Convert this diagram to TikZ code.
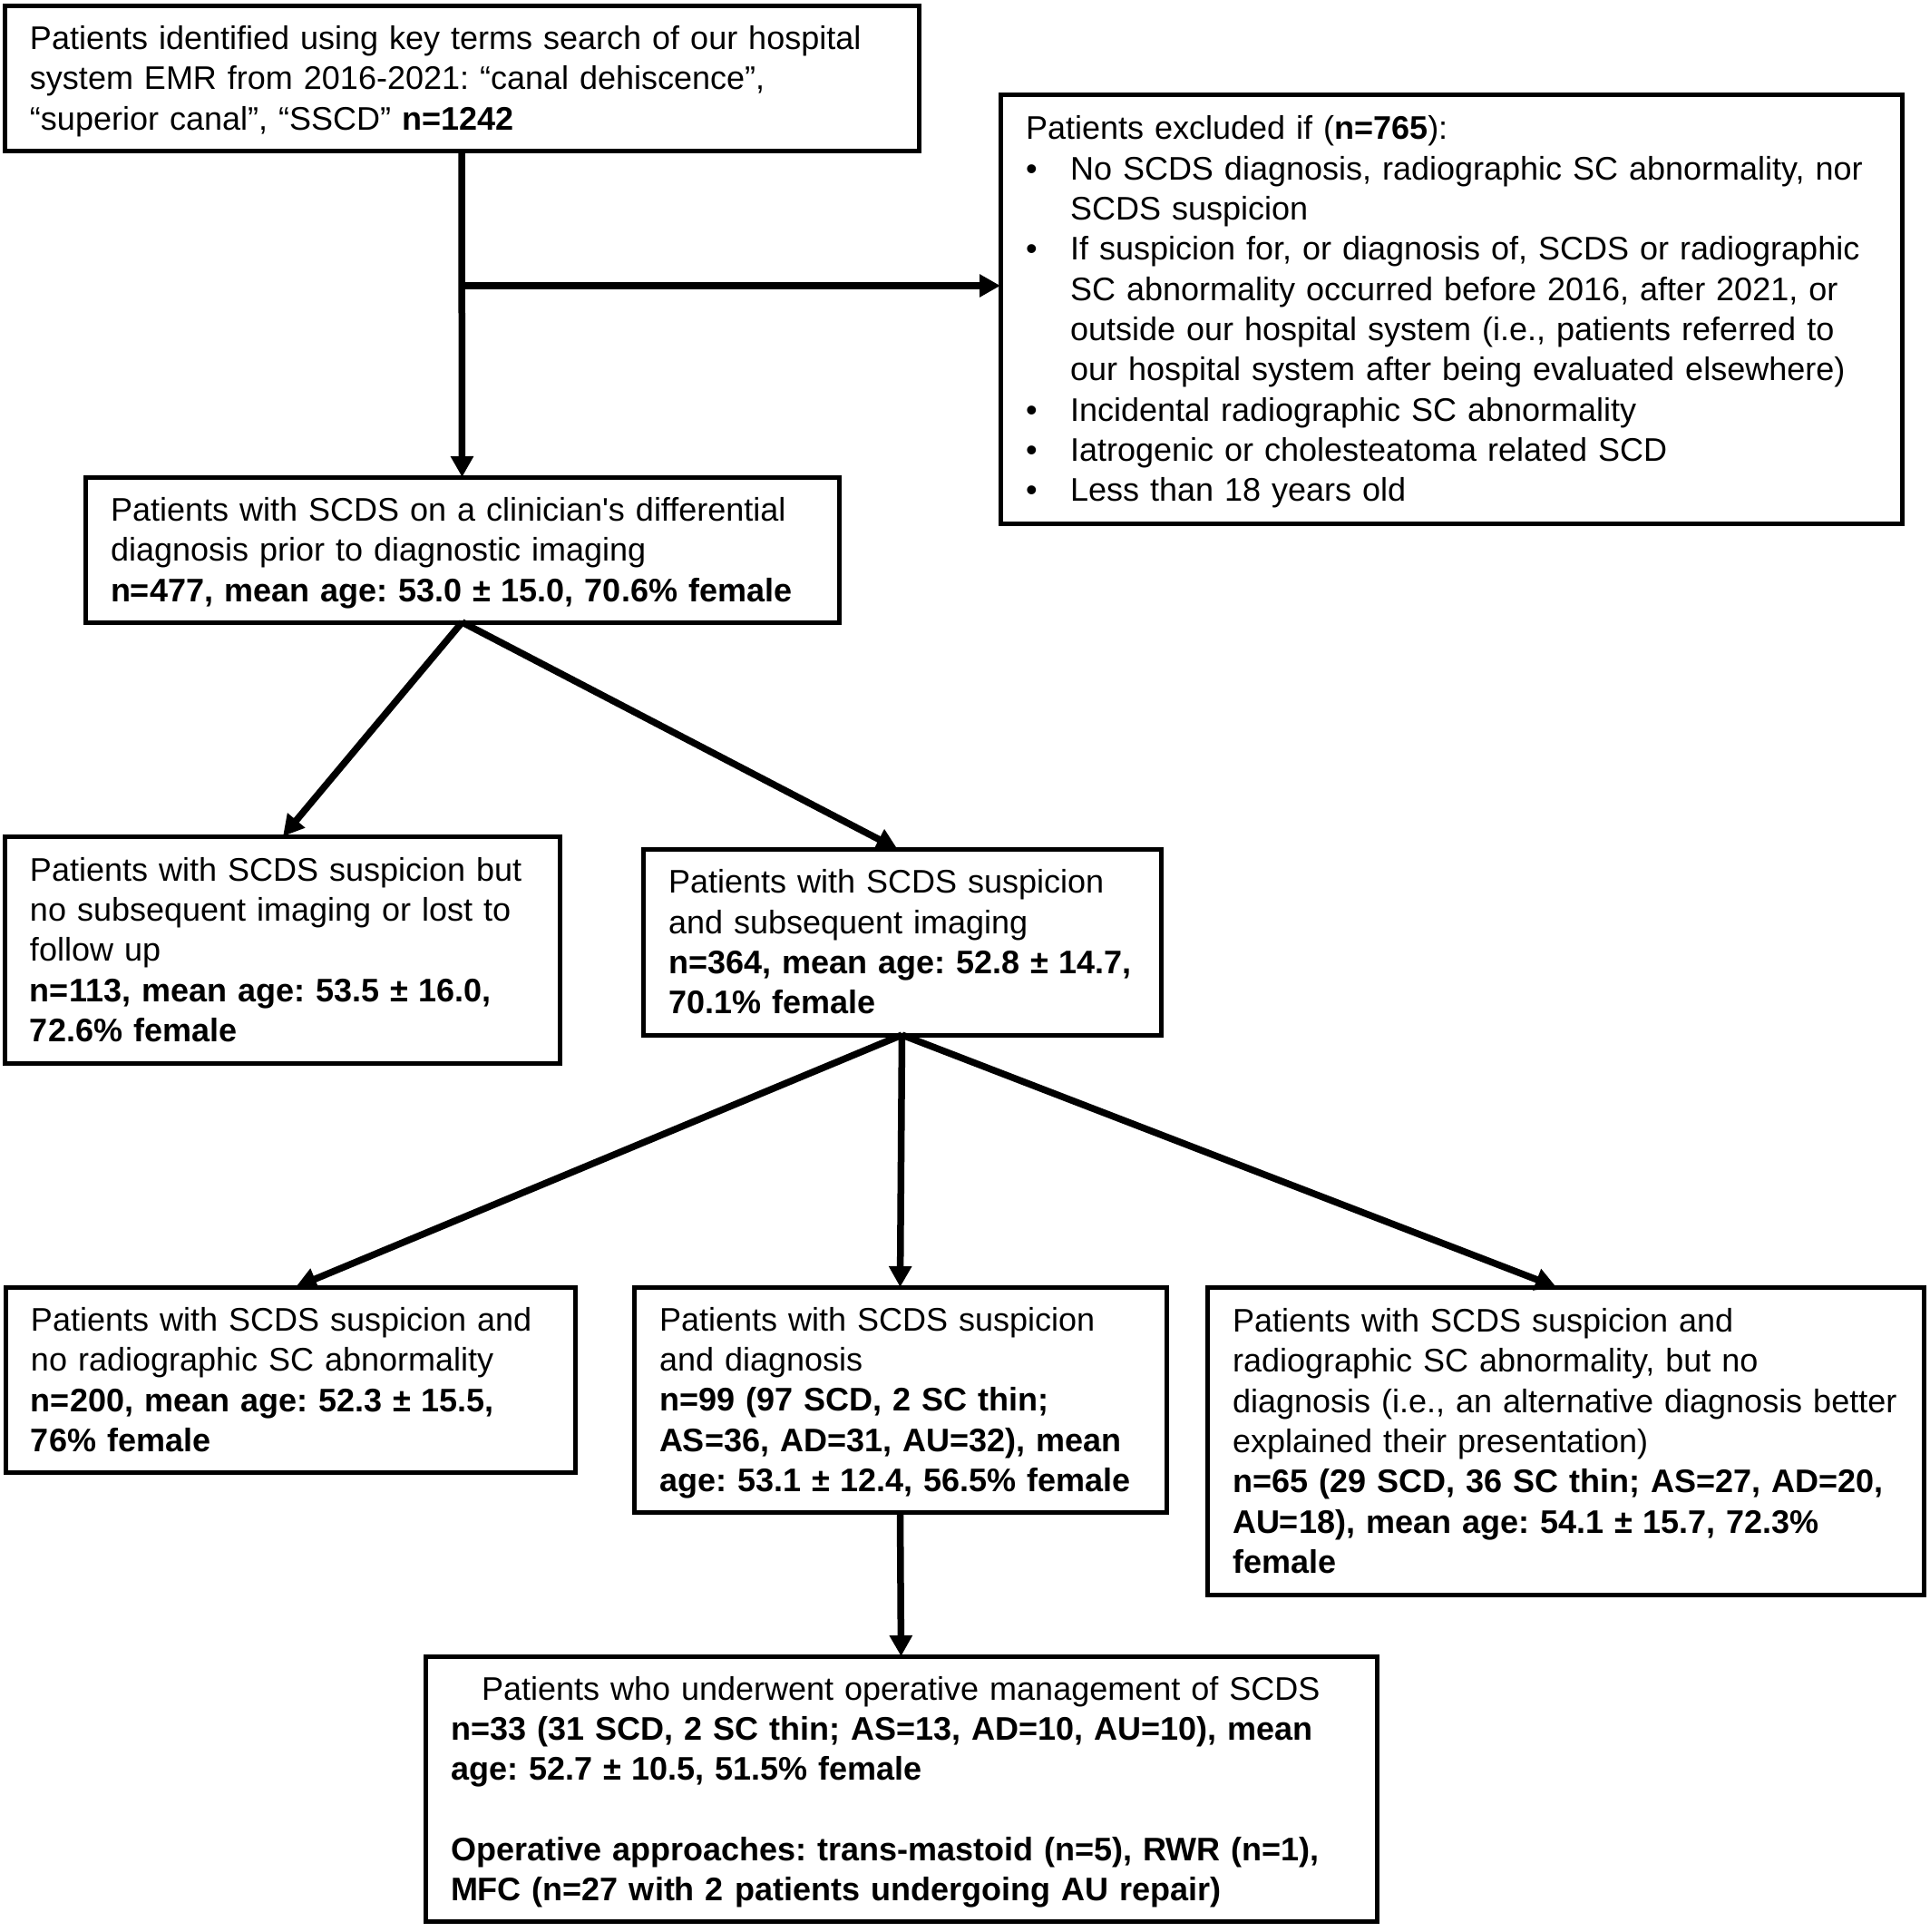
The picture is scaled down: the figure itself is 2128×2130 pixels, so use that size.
\documentclass[tikz,border=0pt]{standalone}
\usepackage{fontspec}
\setmainfont{Liberation Sans}[Ligatures=TeXOff]
\usetikzlibrary{arrows.meta,calc}
\frenchspacing
\newcommand{\tb}[1]{\noindent\raisebox{-1.2pt}[\height][\depth]{\begin{tabular}{@{}l@{}}#1\end{tabular}}}
\newcommand{\bul}{\makebox[14.7pt][l]{\textbullet}}
\newcommand{\hang}{\hspace*{14.7pt}}
\begin{document}
\begin{tikzpicture}[x=0.3pt,y=-0.3pt,
  box/.style={draw, line width=1.5pt, anchor=north west, outer sep=0pt,
    inner xsep=8.4pt, inner ysep=0pt,
    font=\fontsize{10.8}{13.3}\selectfont\frenchspacing},
  arr/.style={line width=2.25pt, -{Triangle[width=7.2pt,length=6.9pt]}}]
\useasboundingbox (0,0) rectangle (2128,2130);

\node[box, minimum width=302.4pt, minimum height=48pt, text width=285.6pt] (b1) at (5,6)
 {\tb{Patients identified using key terms search of our hospital\\
 system EMR from 2016-2021: “canal dehiscence”,\\
 “superior canal”, “SSCD” \textbf{n=1242}}};

\node[box, minimum width=298.2pt, minimum height=141.9pt, text width=281.4pt] (ex) at (1103,104)
 {\tb{Patients excluded if (\textbf{n=765}):\\
 \bul No SCDS diagnosis, radiographic SC abnormality, nor\\
 \hang SCDS suspicion\\
 \bul If suspicion for, or diagnosis of, SCDS or radiographic\\
 \hang SC abnormality occurred before 2016, after 2021, or\\
 \hang outside our hospital system (i.e., patients referred to\\
 \hang our hospital system after being evaluated elsewhere)\\
 \bul Incidental radiographic SC abnormality\\
 \bul Iatrogenic or cholesteatoma related SCD\\
 \bul Less than 18 years old}};

\node[box, minimum width=249.3pt, minimum height=48pt, text width=232.5pt] (b2) at (94,526)
 {\tb{Patients with SCDS on a clinician's differential\\
 diagnosis prior to diagnostic imaging\\
 \textbf{n=477, mean age: 53.0 ± 15.0, 70.6\% female}}};

\node[box, minimum width=183.6pt, minimum height=75pt, text width=166.8pt] (b3) at (5,922)
 {\tb{Patients with SCDS suspicion but\\
 no subsequent imaging or lost to\\
 follow up\\
 \textbf{n=113, mean age: 53.5 ± 16.0,}\\
 \textbf{72.6\% female}}};

\node[box, minimum width=171.3pt, minimum height=61.5pt, text width=154.5pt] (b4) at (709,936)
 {\tb{Patients with SCDS suspicion\\
 and subsequent imaging\\
 \textbf{n=364, mean age: 52.8 ± 14.7,}\\
 \textbf{70.1\% female}}};

\node[box, minimum width=188.4pt, minimum height=61.2pt, text width=171.6pt] (b5) at (6,1419)
 {\tb{Patients with SCDS suspicion and\\
 no radiographic SC abnormality\\
 \textbf{n=200, mean age: 52.3 ± 15.5,}\\
 \textbf{76\% female}}};

\node[box, minimum width=176.1pt, minimum height=74.4pt, text width=159.3pt] (b6) at (699,1419)
 {\tb{Patients with SCDS suspicion\\
 and diagnosis\\
 \textbf{n=99 (97 SCD, 2 SC thin;}\\
 \textbf{AS=36, AD=31, AU=32), mean}\\
 \textbf{age: 53.1 ± 12.4, 56.5\% female}}};

\node[box, minimum width=237pt, minimum height=101.7pt, text width=220.2pt] (b7) at (1331,1419)
 {\tb{Patients with SCDS suspicion and\\
 radiographic SC abnormality, but no\\
 diagnosis (i.e., an alternative diagnosis better\\
 explained their presentation)\\
 \textbf{n=65 (29 SCD, 36 SC thin; AS=27, AD=20,}\\
 \textbf{AU=18), mean age: 54.1 ± 15.7, 72.3\%}\\
 \textbf{female}}};

\node[box, minimum width=314.7pt, minimum height=87.6pt, text width=297.9pt] (b8) at (469,1826)
 {\tb{\hspace*{10.2pt}Patients who underwent operative management of SCDS\\
 \textbf{n=33 (31 SCD, 2 SC thin; AS=13, AD=10, AU=10), mean}\\
 \textbf{age: 52.7 ± 10.5, 51.5\% female}\\
 \\
 \textbf{Operative approaches: trans-mastoid (n=5), RWR (n=1),}\\
 \textbf{MFC (n=27 with 2 patients undergoing AU repair)}}};

\coordinate (br) at (509,315);
\draw[arr] (b1.south) -- (b2.north);
\draw[arr] (br) -- (br -| ex.west);
\draw[arr] (b2.south) -- ($(b3.north)+(1,0)$);
\draw[arr] (b2.south) -- ($(b4.north)+(-5,0)$);
\draw[arr] (b4.south) -- ($(b5.north)+(6,0)$);
\draw[arr] (b4.south) -- (b6.north);
\draw[arr] (b4.south) -- ($(b7.north)+(-10,0)$);
\draw[arr] (b6.south) -- (b8.north);
\end{tikzpicture}
\end{document}
